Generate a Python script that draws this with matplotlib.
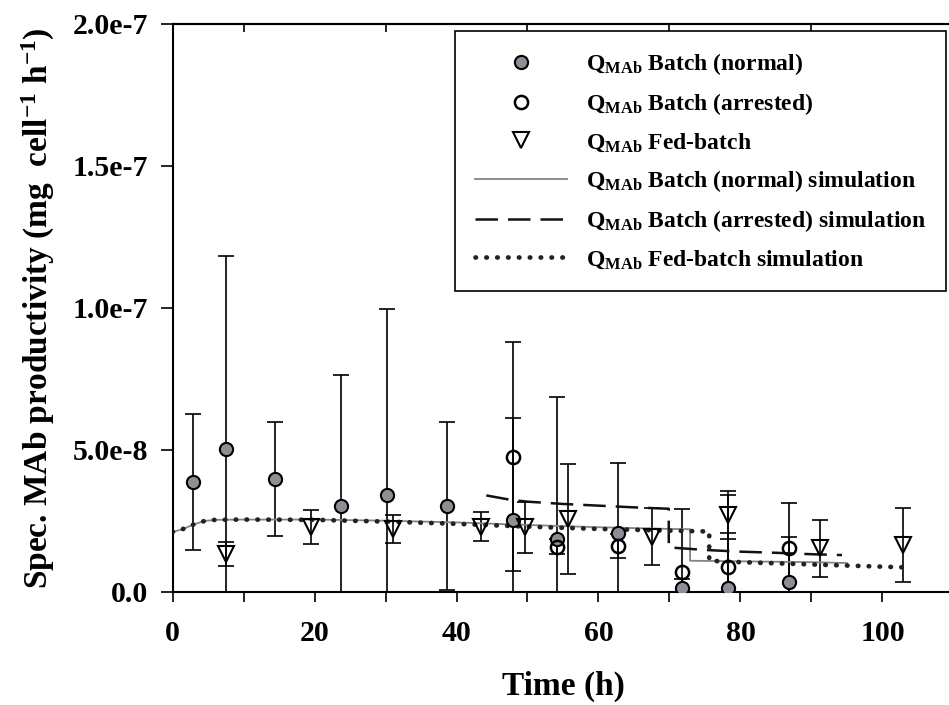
"""
Specific MAb productivity for batch (normal / arrested) and fed-batch
cultures, with the model simulations laid over the measured points.
"""
import matplotlib
matplotlib.use('Agg')
import matplotlib.pyplot as plt
from matplotlib.ticker import FixedLocator

plt.rcParams['font.family'] = ['Liberation Serif', 'DejaVu Serif']
plt.rcParams['font.weight'] = 'bold'
plt.rcParams['mathtext.fontset'] = 'custom'
plt.rcParams['mathtext.rm'] = 'Liberation Serif:bold'
plt.rcParams['mathtext.it'] = 'Liberation Serif:bold'
plt.rcParams['mathtext.bf'] = 'Liberation Serif:bold'

SCALE = 1e-8  # all values below are in units of 1e-8 mg cell-1 h-1

# measured points (mean, sd)
normal_t = [2.9, 7.5, 14.5, 23.7, 30.2, 38.6, 47.9, 54.1, 62.7, 71.7, 78.2, 86.8]
normal_q = [3.87, 5.02, 3.97, 3.03, 3.42, 3.03, 2.54, 1.85, 2.07, 0.15, 0.13, 0.36]
normal_sd = [2.4, 6.82, 2.0, 4.6, 6.53, 2.95, 3.6, 5.0, 2.48, 0.3, 1.96, 1.59]

arrested_t = [47.9, 54.1, 62.7, 71.7, 78.2, 86.8]
arrested_q = [4.77, 1.6, 1.62, 0.72, 0.89, 1.54]
arrested_sd = [4.02, 0.25, 0.41, 2.2, 2.53, 1.58]

fed_t = [7.5, 19.5, 31.1, 43.4, 49.6, 55.7, 67.5, 78.2, 91.2, 102.9]
fed_q = [1.33, 2.3, 2.21, 2.3, 2.28, 2.57, 1.95, 2.71, 1.54, 1.65]
fed_sd = [0.43, 0.6, 0.5, 0.5, 0.9, 1.95, 1.0, 0.86, 1.0, 1.3]

# simulations
normal_sim_t = [0, 1.5, 3, 4.5, 6, 10, 20, 30, 40, 50, 60, 70, 72.9, 72.9, 80, 90, 95]
normal_sim_q = [2.11, 2.22, 2.38, 2.50, 2.54, 2.55, 2.55, 2.51, 2.45, 2.36, 2.28,
                2.22, 2.21, 1.10, 1.08, 1.05, 1.02]

arrested_sim_t = [44.2, 47.5, 50, 55, 60, 65, 69.9, 69.9, 75, 80, 85, 90, 94.3]
arrested_sim_q = [3.40, 3.25, 3.18, 3.10, 3.04, 2.98, 2.93, 1.57, 1.48, 1.42,
                  1.38, 1.33, 1.30]

fed_sim_t = [0, 1.5, 3, 4.5, 6, 10, 20, 30, 40, 50, 60, 70, 75.6, 75.6, 80, 90, 102.7]
fed_sim_q = [2.11, 2.22, 2.38, 2.50, 2.54, 2.55, 2.54, 2.48, 2.40, 2.30, 2.22,
             2.16, 2.13, 1.10, 1.05, 0.97, 0.87]

y_ticks = [0, 5, 10, 15, 20]
y_tick_labels = ['0.0', '5.0e-8', '1.0e-7', '1.5e-7', '2.0e-7']


def sc(vals):
    return [v * SCALE for v in vals]


fig = plt.figure(figsize=(9.49, 7.05), dpi=100)
ax = fig.add_axes([0.1818, 0.1603, 0.8229, 0.8057])

eb = dict(fmt='none', ecolor='black', elinewidth=1.2, capsize=6, capthick=1.2, zorder=2)
ax.errorbar(normal_t, sc(normal_q), yerr=sc(normal_sd), **eb)
ax.errorbar(arrested_t, sc(arrested_q), yerr=sc(arrested_sd), **eb)
ax.errorbar(fed_t, sc(fed_q), yerr=sc(fed_sd), **eb)

h1, = ax.plot(normal_t, sc(normal_q), 'o', ms=9.5, mfc='#8e8e96', mec='black', mew=1.5,
              zorder=5, label=r'Q$_{\mathrm{MAb}}$ Batch (normal)')
h2, = ax.plot(arrested_t, sc(arrested_q), 'o', ms=9.5, mfc='none', mec='black', mew=1.8,
              zorder=5, label=r'Q$_{\mathrm{MAb}}$ Batch (arrested)')
h3, = ax.plot(fed_t, sc(fed_q), 'v', ms=12, mfc='none', mec='black', mew=1.5,
              zorder=5, label=r'Q$_{\mathrm{MAb}}$ Fed-batch')

h4, = ax.plot(normal_sim_t, sc(normal_sim_q), '-', color='#8a8282', lw=1.3, zorder=3,
              label=r'Q$_{\mathrm{MAb}}$ Batch (normal) simulation')
h5, = ax.plot(arrested_sim_t, sc(arrested_sim_q), color='#111111', lw=1.8,
              dashes=(9, 4), zorder=3,
              label=r'Q$_{\mathrm{MAb}}$ Batch (arrested) simulation')
h6, = ax.plot(fed_sim_t, sc(fed_sim_q), color='#222222', lw=3.4,
              linestyle=(0, (0.1, 2.2)), dash_capstyle='round', zorder=4,
              label=r'Q$_{\mathrm{MAb}}$ Fed-batch simulation')

ax.set_xlim(0, 110)
ax.set_ylim(0, 2e-7)

ax.xaxis.set_major_locator(FixedLocator([0, 20, 40, 60, 80, 100]))
ax.xaxis.set_minor_locator(FixedLocator([10, 30, 50, 70, 90]))
ax.set_yticks(sc(y_ticks))
ax.set_yticklabels(y_tick_labels)
ax.tick_params(axis='x', which='both', direction='out', length=7, width=1.2,
               labelsize=21.5, pad=13)
ax.tick_params(axis='y', direction='out', length=9, width=1.2, labelsize=21.5, pad=8.5)

# top axis only carries short inward ticks at the odd tens
top = ax.secondary_xaxis('top')
top.set_xticks([10, 30, 50, 70, 90])
top.tick_params(direction='in', length=6, width=1.2, labeltop=False)

for s in ['left', 'bottom', 'top']:
    ax.spines[s].set_linewidth(1.5)
top.spines['top'].set_linewidth(1.5)
ax.spines['right'].set_visible(False)

ax.set_xlabel('Time (h)', fontsize=24, fontweight='bold')
ax.xaxis.set_label_coords(0.5, -0.138)
ax.set_ylabel(r'Spec. MAb productivity (mg  cell$^{-1}$ h$^{-1}$)', fontsize=24,
              fontweight='bold')
ax.yaxis.set_label_coords(-0.148, 0.5)

leg = ax.legend(handles=[h1, h2, h3, h4, h5, h6], loc='upper left',
                bbox_to_anchor=(455 / 949, 1 - 31 / 705),
                bbox_transform=fig.transFigure, fontsize=17, frameon=True,
                fancybox=False, edgecolor='black', framealpha=1,
                handlelength=3.9, handletextpad=0.8, labelspacing=0.6,
                borderpad=0.85, borderaxespad=0)
leg.get_frame().set_linewidth(1.2)

fig.savefig('out.png', dpi=100)
